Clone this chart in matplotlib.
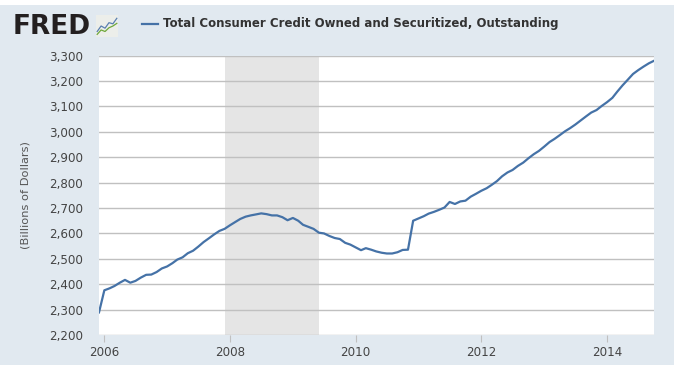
import matplotlib
matplotlib.use("Agg")
import matplotlib.pyplot as plt
import matplotlib.dates as mdates
from matplotlib.ticker import FixedLocator, FuncFormatter
from matplotlib.patches import Rectangle
import numpy as np
import pandas as pd

# ---- data ----
start_month = "2005-12-01"
values = [
    2289, 2376, 2384, 2393, 2406, 2417, 2406, 2413, 2426, 2437, 2438, 2448,
    2462, 2470, 2483, 2497, 2506, 2522, 2532, 2548, 2566, 2581, 2596, 2610,
    2618, 2632, 2645, 2657, 2666, 2671, 2675, 2679, 2676, 2671, 2671, 2664,
    2652, 2661, 2650, 2634, 2626, 2618, 2603, 2600, 2590, 2582, 2578, 2563,
    2556, 2545, 2534, 2542, 2536, 2529, 2524, 2521, 2521, 2526, 2535, 2536,
    2650, 2659, 2668, 2678, 2685, 2693, 2702, 2724, 2716, 2726, 2729, 2745,
    2756, 2768, 2778, 2791, 2806, 2825, 2840, 2850, 2866, 2879, 2896, 2912,
    2925, 2942, 2960, 2972, 2987, 3002, 3015, 3029, 3045, 3061, 3076, 3086,
    3102, 3117, 3134, 3158, 3183, 3205, 3228, 3243, 3257, 3270, 3280,
]
recession = ("2007-12-01", "2009-06-01")
y_ticks = [2200, 2300, 2400, 2500, 2600, 2700, 2800, 2900, 3000, 3100, 3200, 3300]
x_tick_years = [2006, 2008, 2010, 2012, 2014]
series_name = "Total Consumer Credit Owned and Securitized, Outstanding"
y_label = "(Billions of Dollars)"
logo_text = "FRED"
logo_blue = [0.25, 0.5, 0.4, 0.65, 0.6, 0.85]
logo_green = [0.12, 0.32, 0.25, 0.42, 0.5, 0.62]

dates = pd.date_range(start_month, periods=len(values), freq="MS")

W, H = 679, 365
fig = plt.figure(figsize=(W / 100, H / 100), dpi=100)
fig.patch.set_facecolor("white")
bg = "#E1E9F0"
fig.patches.append(Rectangle((0, 0), 674 / W, 360 / H, transform=fig.transFigure,
                             facecolor=bg, edgecolor="none", zorder=-10))

left, right, top, bottom = 99, 654, 55.7, 335
ax = fig.add_axes([left / W, 1 - bottom / H, (right - left) / W, (bottom - top) / H])
ax.set_facecolor("white")

ax.axvspan(pd.Timestamp(recession[0]), pd.Timestamp(recession[1]),
           color="#E5E5E5", lw=0, zorder=0.5)
ax.plot(dates, values, color="#4572A7", lw=1.6, zorder=3, solid_joinstyle="round")

ax.set_xlim(dates[0], dates[-1])
ax.set_ylim(y_ticks[0], y_ticks[-1])
ax.yaxis.set_major_locator(FixedLocator(y_ticks))
ax.yaxis.set_major_formatter(FuncFormatter(lambda v, p: f"{int(v):,}"))
ax.grid(axis="y", color="#C0C0C0", lw=1.0, zorder=1)
ax.set_axisbelow(True)

ax.set_xticks([pd.Timestamp(f"{y}-01-01") for y in x_tick_years])
ax.xaxis.set_major_formatter(mdates.DateFormatter("%Y"))
for s in ax.spines.values():
    s.set_visible(False)
ax.tick_params(axis="y", length=0, pad=11.5, labelsize=8.6, labelcolor="#444444")
ax.tick_params(axis="x", length=5, width=0.8, color="#C0C0C0", pad=3,
               labelsize=8.6, labelcolor="#444444")
ax.set_ylabel(y_label, fontsize=8.2, color="#555555", labelpad=13)

# header: logo + legend
fig.text(13 / W, 1 - 27 / H, logo_text, fontsize=19, fontweight="heavy",
         color="#231F20", va="center", ha="left")
iax = fig.add_axes([96 / W, 1 - 37 / H, 22 / W, 22 / H])
iax.set_facecolor("#ECEEEA")
ix = list(range(len(logo_blue)))
iax.plot(ix, logo_blue, color="#5A7FB0", lw=0.9)
iax.plot(ix, logo_green, color="#6FA83A", lw=0.9)
iax.set_xlim(-0.3, len(logo_blue) - 0.7)
iax.set_ylim(0, 1)
iax.set_xticks([]); iax.set_yticks([])
for s in iax.spines.values():
    s.set_visible(False)

fig.lines.append(plt.Line2D([142 / W, 158 / W], [1 - 24 / H, 1 - 24 / H],
                            transform=fig.transFigure, color="#4572A7", lw=1.6))
fig.text(163 / W, 1 - 24 / H, series_name, fontsize=8.5, fontweight="bold",
         color="#333333", va="center", ha="left")

fig.savefig("out.png", dpi=100, facecolor=fig.get_facecolor())
